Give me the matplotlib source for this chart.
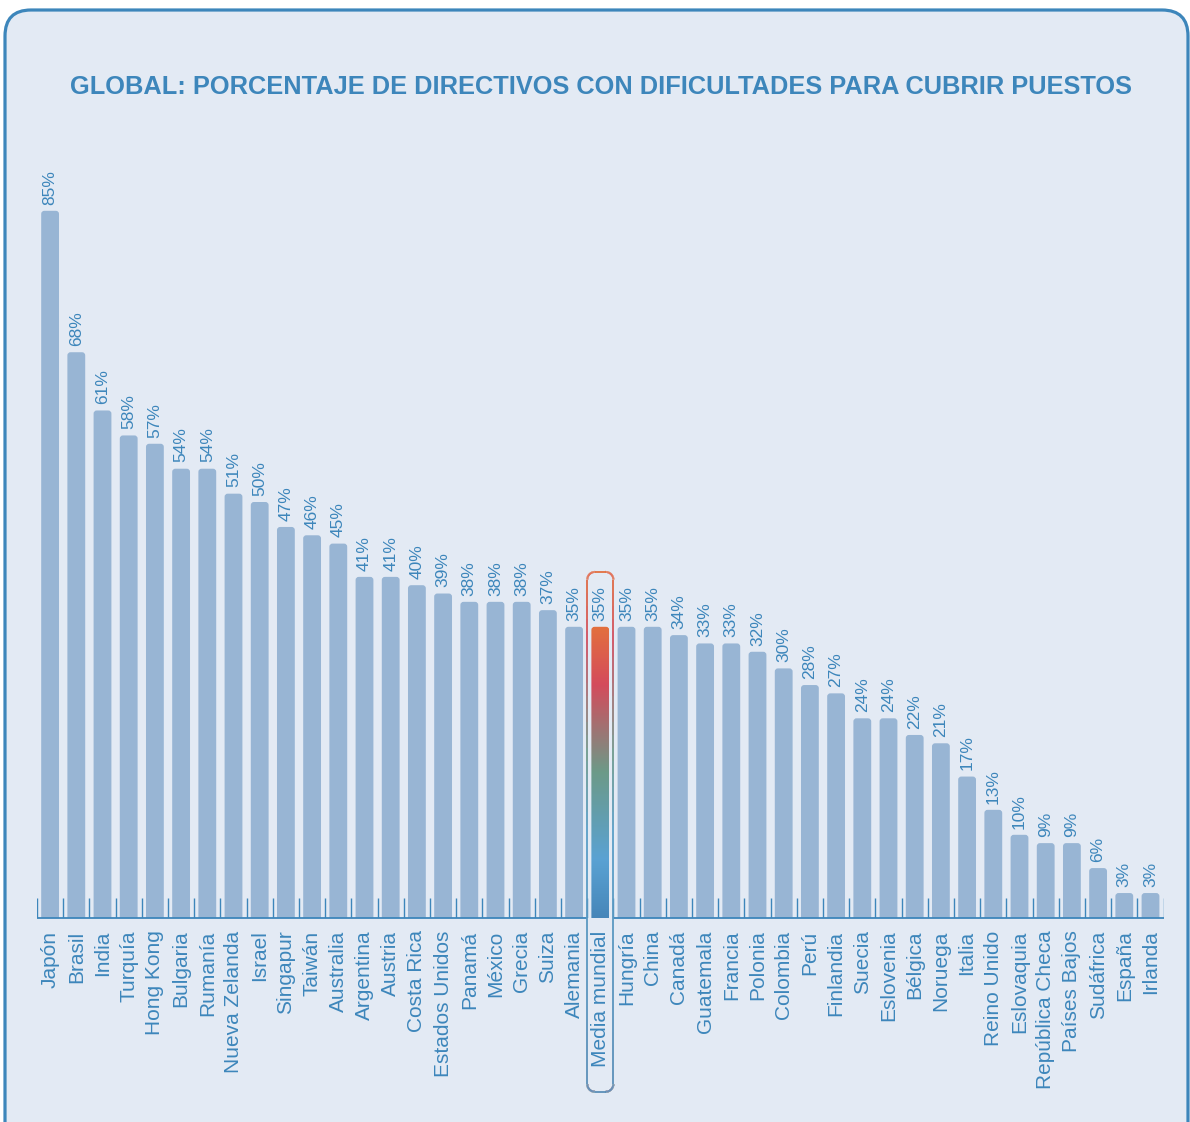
import numpy as np
import matplotlib
matplotlib.use('Agg')
import matplotlib.pyplot as plt
from matplotlib.patches import FancyBboxPatch
from matplotlib.colors import LinearSegmentedColormap
from matplotlib.collections import LineCollection
from matplotlib.transforms import IdentityTransform

plt.rcParams['font.family'] = ['Liberation Sans', 'DejaVu Sans']

titulo = 'GLOBAL: PORCENTAJE DE DIRECTIVOS CON DIFICULTADES PARA CUBRIR PUESTOS'
paises = ['Japón', 'Brasil', 'India', 'Turquía', 'Hong Kong', 'Bulgaria', 'Rumanía',
          'Nueva Zelanda', 'Israel', 'Singapur', 'Taiwán', 'Australia', 'Argentina',
          'Austria', 'Costa Rica', 'Estados Unidos', 'Panamá', 'México', 'Grecia',
          'Suiza', 'Alemania', 'Media mundial', 'Hungría', 'China', 'Canadá',
          'Guatemala', 'Francia', 'Polonia', 'Colombia', 'Perú', 'Finlandia', 'Suecia',
          'Eslovenia', 'Bélgica', 'Noruega', 'Italia', 'Reino Unido', 'Eslovaquia',
          'República Checa', 'Países Bajos', 'Sudáfrica', 'España', 'Irlanda']
valores = [85, 68, 61, 58, 57, 54, 54, 51, 50, 47, 46, 45, 41, 41, 40, 39, 38, 38, 38,
           37, 35, 35, 35, 35, 34, 33, 33, 32, 30, 28, 27, 24, 24, 22, 21, 17, 13, 10,
           9, 9, 6, 3, 3]
media = 'Media mundial'

azul = '#3d86bb'
fondo = '#e3eaf4'
gris_azul = '#98b5d4'

grad_barra = LinearSegmentedColormap.from_list('barra', [
    (0.0, '#4686b9'), (0.2, '#5aa2d3'), (0.5, '#6c9a88'),
    (0.8, '#d44b5c'), (1.0, '#e3703d')])
grad_marco = LinearSegmentedColormap.from_list('marco', [
    (0.0, '#5b8fb8'), (0.5, '#5a9fc8'), (0.65, '#6f9a8e'),
    (0.87, '#d04e60'), (1.0, '#e27040')])

W, H = 1190, 1122
fig = plt.figure(figsize=(W / 100, H / 100), dpi=100)
fig.patch.set_facecolor('white')

# marco redondeado del fondo
marco = FancyBboxPatch((5, -30), 1183, 1142, boxstyle='round,pad=0,rounding_size=26',
                       transform=IdentityTransform(), facecolor=fondo, edgecolor=azul,
                       linewidth=2.3, zorder=-10)
fig.patches.append(marco)

fig.text(0.505, 1 - 87 / H, titulo, ha='center', va='center', fontsize=18.3,
         color=azul, fontweight='bold')

ax = fig.add_axes([37 / W, 204 / H, 1126.6 / W, 748.8 / H])
ax.set_facecolor('none')
for s in ax.spines.values():
    s.set_visible(False)

x = np.arange(len(paises))
ancho = 0.68
# escala de los redondeos (unidades y por unidad x en pixeles)
aspecto = (90 / 748.8) / (43 / 1126.6)
im_i = paises.index(media)

for i, v in enumerate(valores):
    es_media = i == im_i
    p = FancyBboxPatch((x[i] - ancho / 2, -2), ancho, v + 2,
                       boxstyle='round,pad=0,rounding_size=0.12', mutation_aspect=aspecto,
                       facecolor='none' if es_media else gris_azul, edgecolor='none',
                       zorder=2)
    ax.add_patch(p)
    if es_media:
        grad = np.linspace(0, 1, 256).reshape(-1, 1)
        im = ax.imshow(grad, extent=(x[i] - ancho / 2, x[i] + ancho / 2, 0, v),
                       aspect='auto', cmap=grad_barra, origin='lower', zorder=3)
        im.set_clip_path(p)
    ax.text(x[i], v + 0.75, f'{v}%', rotation=90, ha='center', va='bottom',
            fontsize=12.5, color=azul)

# linea base (cortada dentro del recuadro) y marcas entre barras
ax.hlines([0, 0], [-0.5, im_i + 0.5], [im_i - 0.5, len(paises) - 0.5], color=azul,
          lw=1.3, clip_on=False, zorder=4)
ax.vlines(np.arange(-0.5, len(paises)), 0, 2.4, color=azul, lw=1, zorder=4)

# recuadro degradado alrededor de la media mundial
x0, x1 = im_i - 0.5, im_i + 0.5
y0, y1 = -20.9, valores[im_i] + 6.6
rx, ry = 0.3, 0.3 * aspecto
pts = []
for cx, cy, a0 in [(x1 - rx, y1 - ry, 0), (x0 + rx, y1 - ry, 90),
                   (x0 + rx, y0 + ry, 180), (x1 - rx, y0 + ry, 270)]:
    ang = np.radians(np.linspace(a0, a0 + 90, 20))
    pts.append(np.column_stack([cx + rx * np.cos(ang), cy + ry * np.sin(ang)]))
pts.append(pts[0][:1])
pts = np.vstack(pts)
densos = [pts[0]]
for a, b in zip(pts[:-1], pts[1:]):
    for t in np.linspace(0, 1, 40)[1:]:
        densos.append(a + (b - a) * t)
densos = np.array(densos)
segs = np.stack([densos[:-1], densos[1:]], axis=1)
ymed = (segs[:, 0, 1] + segs[:, 1, 1]) / 2
lc = LineCollection(segs, colors=grad_marco((ymed - y0) / (y1 - y0)), linewidths=1.3,
                    clip_on=False, zorder=5)
ax.add_collection(lc)

ax.set_xlim(-0.5, len(paises) - 0.5)
ax.set_ylim(0, 90)
ax.set_yticks([])
ax.set_xticks(x, paises, rotation=90, fontsize=15, color=azul)
ax.tick_params(axis='x', length=0, pad=9)

fig.savefig('out.png', dpi=100, facecolor=fig.get_facecolor())
